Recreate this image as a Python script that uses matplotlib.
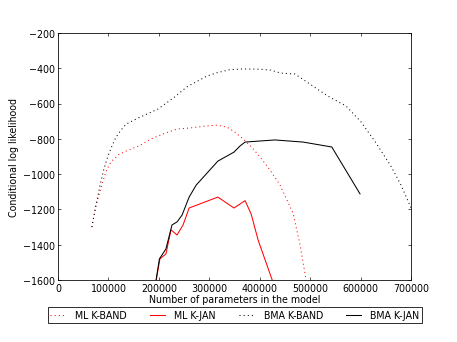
import matplotlib
matplotlib.use("Agg")
import matplotlib.pyplot as plt

# ML K-BAND (red dotted)
ml_band_x = [67000, 75000, 85000, 95000, 105000, 120000, 135000, 160000, 185000, 210000, 236000, 262000, 290000, 315000, 335000, 350000, 367000, 385000, 400000, 420000, 440000, 466000, 480000, 492000, 500000]
ml_band_y = [-1300, -1180, -1080, -985, -930, -890, -869, -840, -800, -770, -744, -738, -728, -722, -733, -760, -800, -850, -900, -975, -1060, -1220, -1400, -1600, -1700]

# ML K-JAN (red solid)
ml_jan_x = [190000, 202000, 214000, 224000, 236000, 248000, 260000, 317000, 349000, 371000, 383000, 397000, 424000, 430000]
ml_jan_y = [-1680, -1481, -1452, -1316, -1345, -1288, -1192, -1130, -1192, -1150, -1226, -1375, -1594, -1640]

# BMA K-BAND (black dotted)
bma_band_x = [67000, 75000, 83000, 91000, 99000, 107000, 115000, 125000, 135000, 160000, 198000, 230000, 255000, 295000, 315000, 340000, 367000, 400000, 422000, 442000, 470000, 500000, 535000, 571000, 600000, 630000, 660000, 680000, 700000]
bma_band_y = [-1300, -1180, -1067, -970, -897, -840, -790, -750, -716, -680, -631, -565, -506, -444, -425, -408, -403, -405, -410, -427, -432, -490, -557, -613, -700, -820, -953, -1060, -1190]

# BMA K-JAN (black solid)
bma_jan_x = [190000, 201000, 214000, 226000, 236000, 246000, 260000, 274000, 317000, 349000, 361000, 371000, 430000, 486000, 543000, 599000]
bma_jan_y = [-1680, -1481, -1424, -1288, -1271, -1232, -1130, -1062, -926, -875, -840, -818, -806, -818, -846, -1112]

labels = ["ML K-BAND", "ML K-JAN", "BMA K-BAND", "BMA K-JAN"]

fig = plt.figure(figsize=(8, 6), dpi=57.14)
ax = fig.add_axes([0.127, 0.181, 0.772, 0.72])

dot = (0, (1.0, 3.0))
ax.plot(ml_band_x, ml_band_y, color="red", linestyle=dot, lw=1.3, label=labels[0])
ax.plot(ml_jan_x, ml_jan_y, color="red", linestyle="-", lw=1.3, label=labels[1])
ax.plot(bma_band_x, bma_band_y, color="black", linestyle=dot, lw=1.3, label=labels[2])
ax.plot(bma_jan_x, bma_jan_y, color="black", linestyle="-", lw=1.3, label=labels[3])

ax.set_xlim(0, 700000)
ax.set_ylim(-1600, -200)
ax.set_xticks([0, 100000, 200000, 300000, 400000, 500000, 600000, 700000])
ax.set_yticks([-1600, -1400, -1200, -1000, -800, -600, -400, -200])
ax.tick_params(direction="in", top=True, right=True, labelsize=12, length=4, width=0.8)
ax.set_xlabel("Number of parameters in the model", fontsize=12, labelpad=2)
ax.set_ylabel("Conditional log likelihood", fontsize=12, labelpad=6)
for s in ax.spines.values():
    s.set_linewidth(1.0)

leg = fig.legend(loc="upper center", bbox_to_anchor=(0.514, 0.102), ncol=4, fontsize=12,
                 fancybox=False, edgecolor="black", framealpha=1, handlelength=1.6,
                 handletextpad=1.0, columnspacing=2.4, borderpad=0.3, borderaxespad=0)
leg.get_frame().set_linewidth(1.0)

fig.savefig("out.png", dpi=57.14)
